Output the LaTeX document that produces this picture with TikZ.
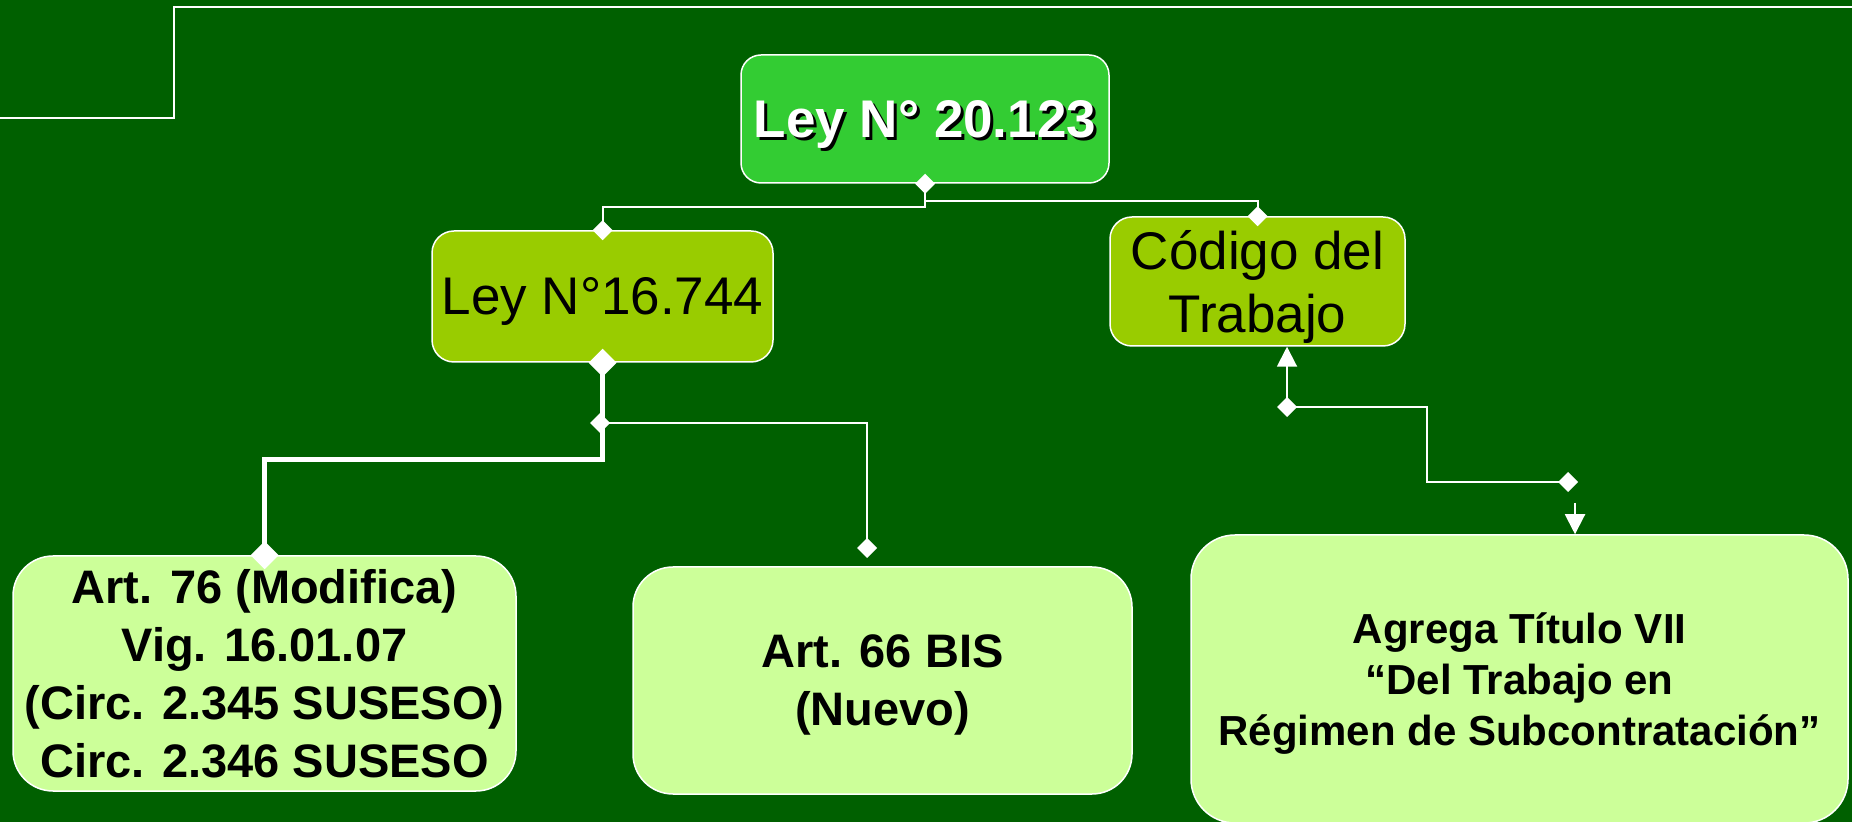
\documentclass[tikz,border=0pt]{standalone}
\usepackage{fontspec}
\setmainfont{Liberation Sans}
\usetikzlibrary{arrows.meta}

\definecolor{bggreen}{RGB}{0,96,0}
\definecolor{topgreen}{RGB}{51,204,51}
\definecolor{midgreen}{RGB}{153,204,0}
\definecolor{leafgreen}{RGB}{204,255,153}

\newcommand{\shadowtext}[1]{\rlap{\kern1.5pt\raisebox{-1.5pt}{\color{black}#1}}#1}

\tikzset{
  lawbox/.style={draw=white, line width=0.75pt, align=center, inner sep=0pt, text depth=0pt},
  topbox/.style={lawbox, fill=topgreen, text=white, rounded corners=10pt,
    font=\bfseries\fontsize{26.5}{32}\selectfont},
  midbox/.style={lawbox, fill=midgreen, rounded corners=11pt,
    font=\fontsize{26.5}{31.5}\selectfont},
  leafbox/.style={lawbox, fill=leafgreen, rounded corners=20pt,
    font=\bfseries\fontsize{23.5}{29}\selectfont},
  link/.style={draw=white, line width=1pt},
  thicklink/.style={draw=white, line width=2.5pt},
  dia/.tip={Turned Square[width=10pt,length=10pt]},
  bigdia/.tip={Turned Square[width=14pt,length=14pt]},
  tri/.tip={Triangle[width=10pt,length=10pt]},
}

\begin{document}
\begin{tikzpicture}[x=0.5pt, y=-0.5pt]
  \clip (0,0) rectangle (1852,822);
  \fill[bggreen] (0,0) rectangle (1852,822);

  % marco superior
  \draw[white, line width=1.2pt] (0,118) -- (174,118) -- (174,7) -- (1852,7);

  \node[topbox, minimum width=184pt, minimum height=64pt] (ley20) at (925,119) {\shadowtext{Ley N° 20.123}};
  \node[midbox, minimum width=170.5pt, minimum height=65.5pt] (ley16) at (602.5,296.5) {Ley N°16.744};
  \node[midbox, minimum width=147.5pt, minimum height=64.5pt] (codigo) at (1257.5,281.5) {Código del\\Trabajo};

  \node[leafbox, minimum width=251.5pt, minimum height=117.5pt] (art76) at (264.5,673.5)
    {Art. 76 (Modifica)\\Vig. 16.01.07\\(Circ. 2.345 SUSESO)\\Circ. 2.346 SUSESO};
  \node[leafbox, minimum width=249.5pt, minimum height=113.5pt] (art66) at (882.5,680.5)
    {Art. 66 BIS\\(Nuevo)};
  \node[leafbox, rounded corners=22pt, minimum width=328.5pt, minimum height=144pt,
    font=\bfseries\fontsize{21}{25.5}\selectfont] (agrega) at (1519.5,679)
    {Agrega Título VII\\“Del Trabajo en\\Régimen de Subcontratación”};

  % Ley 20.123
  \draw[link, dia-dia, shorten <=-5pt, shorten >=-5pt] (ley20.south) -- ++(0,23) -| (ley16.north);
  \draw[link, -dia, shorten >=-5pt] (ley20.south) -- ++(0,17) -| (codigo.north);

  % Ley 16.744
  \draw[thicklink, bigdia-bigdia, shorten <=-7pt, shorten >=-7pt] (ley16.south) -- ++(0,97) -| (art76.north);
  \coordinate (tap) at (600,423);
  \coordinate (a66in) at (867,548);
  \draw[link, dia-dia, shorten <=-5pt, shorten >=-5pt] (tap) -| (a66in);

  % Codigo del Trabajo
  \coordinate (cbend) at (1287,407);
  \coordinate (cend) at (1568,482);
  \coordinate (agin) at (1575,503);
  \draw[link, dia-tri, shorten <=-5pt] (cbend) -- (cbend |- codigo.south);
  \draw[link, -dia, shorten >=-5pt] (cbend) -- ++(140,0) |- (cend);
  \draw[link, -tri] (agin) -- (agin |- agrega.north);
\end{tikzpicture}
\end{document}
